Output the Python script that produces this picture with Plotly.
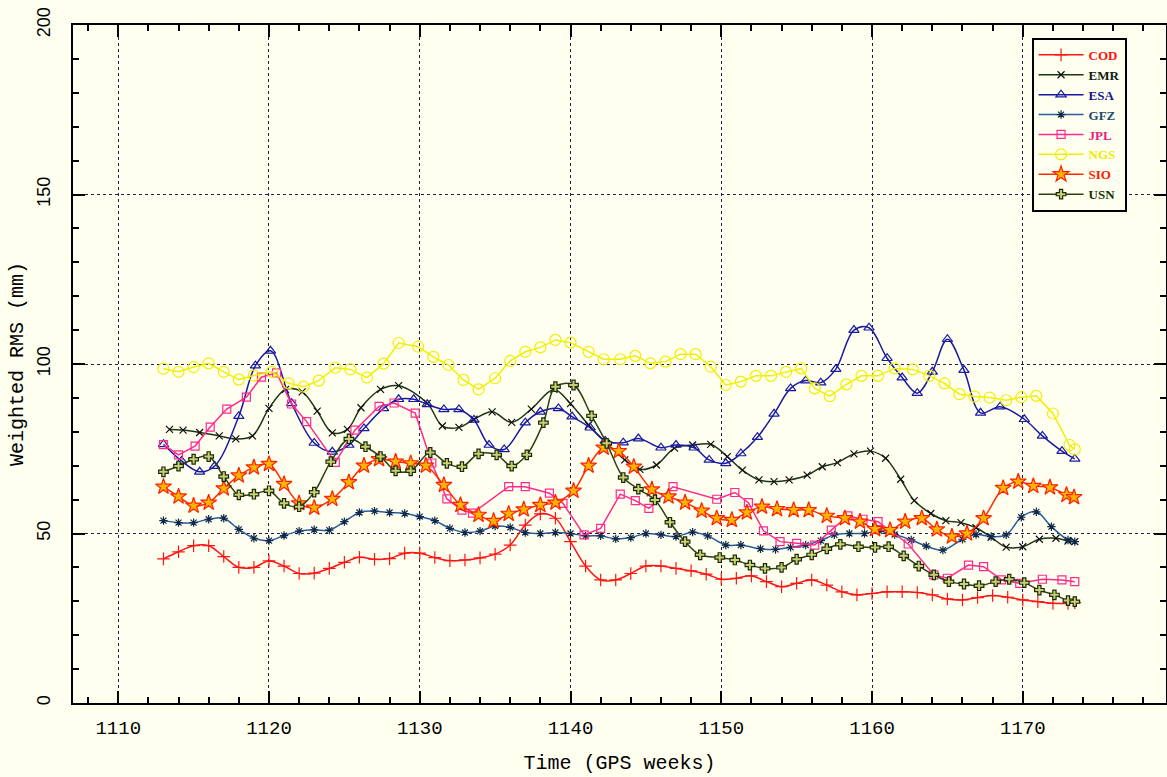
import plotly.graph_objects as go

# GPS weeks (weekly series) and values
weeks = [1113, 1114, 1115, 1116, 1117, 1118, 1119, 1120, 1121, 1122, 1123, 1124, 1125, 1126, 1127,
         1128, 1129, 1130, 1131, 1132, 1133, 1134, 1135, 1136, 1137, 1138, 1139, 1140, 1141, 1142,
         1143, 1144, 1145, 1146, 1147, 1148, 1149, 1150, 1151, 1152, 1153, 1154, 1155, 1156, 1157,
         1158, 1159, 1160, 1161, 1162, 1163, 1164, 1165, 1166, 1167, 1168, 1169, 1170, 1171, 1172,
         1173, 1173.45]

cod = [42.5, 44.6, 46.4, 46.4, 43.2, 40.0, 40.0, 41.9, 40.4, 38.2, 38.3, 39.7, 41.5, 43.0, 42.4,
       42.6, 44.2, 44.2, 42.9, 42.0, 42.2, 42.8, 43.9, 46.6, 52.5, 55.8, 54.5, 47.6, 40.4, 36.3,
       36.3, 38.2, 40.4, 40.4, 39.7, 39.0, 38.0, 36.5, 36.8, 37.5, 35.8, 34.3, 35.3, 36.3, 34.8,
       32.8, 31.9, 32.3, 32.8, 32.8, 32.6, 31.9, 30.7, 30.4, 31.1, 31.7, 31.2, 30.4, 29.9, 29.4,
       29.4, 29.6]

emr_x = [1113.4, 1114.3, 1115.4, 1116.7, 1117.8, 1118.9, 1120, 1121.1, 1122.2, 1123.2,
         1124.2, 1125.2, 1126.1, 1127.4, 1128.6, 1130.5, 1131.5, 1132.6, 1133.6,
         1134.8, 1136.1, 1137.4, 1138.9, 1140, 1141.2, 1142.4, 1143.6, 1144.6,
         1145.7, 1146.9, 1148.1, 1149.3, 1150.4, 1151.4, 1152.5, 1153.5, 1154.5, 1155.7, 1156.7,
         1157.7, 1158.8, 1159.9, 1160.9, 1161.9, 1162.8, 1163.9, 1164.9, 1165.9, 1166.9, 1167.9, 1168.9,
         1170, 1171.1, 1172.2, 1173, 1173.45]
emr = [80.7, 80.5, 79.8, 78.8, 77.9, 78.8, 86.9, 92.5, 91.8, 86.1,
       79.7, 80.7, 87.1, 92.5, 93.6, 88.4, 81.7, 81.3, 83.7,
       85.9, 82.8, 86.7, 92.5, 88.3, 82.0, 76.6, 71.7, 68.9,
       70.2, 75.2, 76.1, 76.3, 72.7, 68.7, 65.8, 65.3, 65.8, 67.2, 69.7,
       70.9, 73.5, 74.3, 72.2, 66.0, 59.7, 55.9, 53.8, 53.2, 51.7, 48.9, 46.0,
       46.1, 48.3, 48.6, 47.8, 47.6]

esa_x = [1113, 1114.2, 1115.4, 1116.4, 1118, 1119.1, 1120.1, 1121.5, 1123,
         1124.2, 1125.3, 1126.3, 1127.6, 1128.6, 1129.6, 1130.5, 1131.6, 1132.6, 1133.6,
         1134.6, 1135.6, 1137, 1138, 1139.2, 1140.1, 1141.3, 1142.3, 1143.5, 1144.5,
         1146, 1147, 1148.2, 1149.2, 1150.3, 1151.3, 1152.4, 1153.5, 1154.6, 1155.6, 1156.6,
         1157.6, 1158.8, 1159.8, 1161, 1162, 1163, 1164, 1165, 1166.1, 1167.2, 1168.5,
         1170.1, 1171.3, 1172.6, 1173.45]
esa = [76.3, 71.4, 68.2, 69.9, 84.6, 99.5, 103.9, 88.4, 76.7,
       74.1, 76.1, 81.0, 86.9, 89.6, 89.6, 88.1, 86.6, 86.6, 83.5,
       76.1, 74.8, 82.7, 85.9, 86.9, 84.5, 81.2, 77.3, 76.8, 78.0,
       75.3, 76.1, 75.3, 71.7, 70.7, 73.6, 78.4, 85.3, 92.8, 95.1, 94.5,
       98.5, 110.0, 110.7, 101.7, 96.0, 91.4, 97.7, 107.3, 98.2, 85.6, 87.4,
       83.7, 78.8, 74.3, 72.0]

gfz_x = [1113, 1114, 1115, 1116, 1117, 1118, 1119, 1120, 1121, 1122,
         1123, 1124, 1125, 1126, 1127, 1128, 1129, 1130, 1131, 1132,
         1133, 1134, 1135, 1136, 1137, 1138, 1139, 1140, 1141, 1142,
         1143, 1144, 1145, 1146, 1147,
         1148.1, 1149.1, 1150.3, 1151.3, 1152.6, 1153.6, 1154.6, 1155.6, 1156.6,
         1157.5, 1158.5, 1159.5, 1160.5, 1161.5, 1162.6, 1163.6, 1164.7,
         1166.0, 1166.9, 1167.9, 1168.9,
         1169.9, 1170.9, 1171.9, 1173.0, 1173.45]
gfz = [53.8, 53.2, 53.2, 54.2, 54.5, 51.2, 48.6, 47.9, 49.4, 50.7,
       51.1, 51.0, 53.5, 56.2, 56.6, 56.2, 55.9, 55.0, 53.8, 51.5,
       50.3, 50.7, 52.2, 51.8, 50.3, 50.0, 50.3, 50.0, 49.3, 49.3,
       48.4, 48.8, 50.0, 49.6, 49.1,
       50.4, 49.3, 46.6, 46.6, 45.5, 45.3, 45.9, 46.6, 47.9,
       49.6, 50.0, 50.0, 50.7, 49.7, 48.1, 46.3, 45.1,
       48.3, 49.7, 49.1, 49.6,
       54.8, 56.4, 52.0, 48.1, 47.6]

jpl_x = [1113, 1114, 1115.1, 1116.1, 1117.2, 1118.5, 1119.5, 1120.5, 1121.5, 1122.5,
         1124.4, 1125.7, 1127.3, 1128.3, 1129.7, 1130.8, 1131.8, 1132.8, 1133.5,
         1135.9, 1137, 1138.6, 1139.5, 1140.9, 1142, 1143.3, 1144.3,
         1145.2, 1146.8, 1149.7, 1150.9, 1151.8, 1152.8, 1153.9, 1155, 1156.2,
         1157.3, 1158.4, 1159.4, 1160.4, 1162.4, 1164.1, 1165, 1166.4, 1167.4, 1168.6,
         1169.8, 1171.3, 1172.6, 1173.45]
jpl = [76.2, 73.2, 75.8, 81.4, 86.7, 90.2, 96.1, 97.4, 88.2, 83.0,
       71.0, 80.5, 87.5, 88.5, 85.5, 70.8, 60.2, 56.9, 56.0,
       63.8, 63.8, 61.9, 58.9, 49.6, 51.5, 61.6, 59.7,
       57.4, 63.8, 60.1, 62.1, 59.1, 50.8, 47.6, 47.1, 46.6,
       51.0, 55.2, 54.2, 53.5, 46.9, 37.8, 36.8, 40.7, 40.2, 36.3,
       35.3, 36.5, 36.3, 35.8]

ngs_x = [1113, 1114, 1115, 1116, 1117, 1118, 1119, 1120.2, 1121.3, 1122.3, 1123.3,
         1124.4, 1125.4, 1126.5, 1127.6, 1128.6, 1129.9, 1130.9, 1131.9, 1132.9, 1133.9,
         1135, 1136, 1137, 1138, 1139, 1140, 1141.2, 1142.2, 1143.3, 1144.3,
         1145.3, 1146.3, 1147.3, 1148.3, 1149.3, 1150.3, 1151.3, 1152.3, 1153.3, 1154.3, 1155.3,
         1156.2, 1157.2,
         1158.3, 1159.3, 1160.4, 1161.5, 1162.7, 1163.8, 1164.8, 1165.8, 1166.8, 1167.8, 1168.9,
         1169.9, 1170.9, 1172, 1173.1, 1173.45]
ngs = [98.6, 97.7, 99.1, 100.2, 97.7, 95.4, 96.6, 97.7, 94.3, 93.3, 95.1,
       98.9, 98.4, 96.0, 100.1, 106.2, 105.1, 102.1, 99.7, 95.3, 92.5,
       95.8, 100.9, 103.6, 104.9, 107.1, 106.3, 103.6, 101.4, 101.4, 102.4,
       100.2, 100.7, 102.9, 102.9, 99.2, 93.8, 94.8, 96.5, 96.5, 97.7, 98.7,
       92.8, 90.5,
       94.0, 96.5, 96.5, 98.7, 98.4, 96.5, 94.3, 91.1, 90.4, 90.1, 89.3,
       90.2, 90.6, 85.4, 76.1, 74.8]

sio_x = [1113, 1114, 1115, 1116, 1117, 1118, 1119, 1120, 1121, 1122, 1123,
         1124.2, 1125.3, 1126.3, 1127.3, 1128.4, 1129.4, 1130.4, 1131.6, 1132.7, 1133.9,
         1134.9, 1135.9, 1136.9, 1138, 1139, 1140.2, 1141.2, 1142.2, 1143.2, 1144.2,
         1145.4, 1146.5, 1147.6, 1148.7, 1149.7, 1150.7, 1151.7, 1152.7, 1153.7, 1154.8, 1155.8, 1157.0,
         1158.2, 1159.2, 1160.2, 1161.2, 1162.2, 1163.3, 1164.3, 1165.3, 1166.3, 1167.4, 1168.7,
         1169.7, 1170.7, 1171.8, 1172.9, 1173.4]
sio = [63.8, 60.9, 58.2, 59.1, 63.3, 67.1, 69.5, 70.5, 64.6, 58.9, 57.6,
       60.2, 65.1, 70.0, 71.9, 71.2, 70.7, 70.0, 64.3, 58.4, 55.5,
       53.7, 55.8, 57.1, 58.4, 59.1, 62.6, 70.0, 75.3, 74.3, 69.7,
       63.0, 60.9, 59.1, 56.7, 54.5, 54.0, 56.2, 57.9, 57.2, 56.9, 56.9, 55.2,
       54.5, 53.5, 51.3, 51.0, 53.5, 54.5, 51.2, 49.1, 50.0, 54.5, 63.4,
       65.3, 64.0, 63.6, 61.4, 60.7]

usn_x = [1113, 1114, 1115, 1116, 1117, 1118, 1119, 1120, 1121, 1122, 1123,
         1124.1, 1125.3, 1126.4, 1127.4, 1128.4, 1129.4, 1130.7, 1131.8, 1132.8, 1133.9,
         1135.1, 1136.1, 1137.1, 1138.2, 1139, 1140.2, 1141.4, 1142.4, 1143.5, 1144.5,
         1145.6, 1146.6, 1147.6, 1148.6, 1149.9, 1150.9, 1151.9, 1152.9, 1154, 1155, 1156, 1157,
         1157.9, 1159.1, 1160.2, 1161.1, 1162.1, 1163.1, 1164.1, 1165.1, 1166.1, 1167.1, 1168.2, 1169.1,
         1170.1, 1171.1, 1172.1, 1173.0, 1173.45]
usn = [68.2, 69.9, 71.9, 72.7, 66.8, 61.4, 61.6, 62.6, 58.9, 57.9, 62.2,
       71.2, 77.9, 75.6, 72.7, 68.5, 68.5, 73.9, 70.7, 69.7, 73.5,
       73.2, 69.9, 73.2, 82.7, 93.3, 93.8, 84.7, 76.6, 66.5, 63.1,
       59.9, 53.3, 47.6, 43.7, 42.9, 42.2, 40.7, 39.7, 40.0, 42.4, 43.7, 45.5,
       46.8, 46.1, 45.9, 46.1, 43.4, 40.4, 37.8, 35.8, 35.1, 34.6, 35.8, 36.5,
       35.5, 33.3, 31.9, 30.2, 29.9]

bg = "#FFFFF0"

series = [
    # name, x, y, line colour, text colour, symbol, size, marker fill, marker line, line shape
    ("COD", weeks, cod, "#ff1414", "#ff1010", "cross-thin-open", 9, "#ff1414", "#ff1414", "spline"),
    ("EMR", emr_x, emr, "#1e3418", "#102010", "x-thin-open", 7, "#101010", "#101010", "spline"),
    ("ESA", esa_x, esa, "#1a1aa0", "#14148c", "triangle-up-open", 9, "#1a1aa0", "#1a1aa0", "spline"),
    ("GFZ", gfz_x, gfz, "#2a5c9c", "#1a4a70", "asterisk-open", 7, "#102848", "#102848", "spline"),
    ("JPL", jpl_x, jpl, "#ff2a8c", "#e8207e", "square-open", 8, "#ff2a8c", "#ff2a8c", "linear"),
    ("NGS", ngs_x, ngs, "#f2ee00", "#f0ea00", "circle-open", 11, "#f2ee00", "#f2ee00", "linear"),
    ("SIO", sio_x, sio, "#ff2a00", "#ff1800", "star", 12, "#ffb400", "#ff2000", "spline"),
    ("USN", usn_x, usn, "#2a4210", "#1a3008", "cross", 8, "#c8d070", "#1a2a08", "spline"),
]

fig = go.Figure()

for name, xs, ys, lc, tc, sym, sz, fill, mline, shape in series:
    fig.add_trace(go.Scatter(
        x=xs, y=ys,
        mode="lines+markers",
        name=f"<span style='color:{tc}'><b>{name}</b></span>",
        line=dict(color=lc, width=1.5, shape=shape, smoothing=1.0),
        marker=dict(symbol=sym, size=sz, color=fill,
                    line=dict(color=mline, width=1.2)),
        hovertemplate=name + ": %{y:.1f} mm<br>week %{x}<extra></extra>",
    ))

fig.update_layout(
    width=1167, height=777,
    paper_bgcolor=bg, plot_bgcolor=bg,
    margin=dict(l=73, r=1, t=25, b=74, autoexpand=False),
    showlegend=True,
    legend=dict(
        x=0.877, y=0.981, xanchor="left", yanchor="top",
        bgcolor=bg, bordercolor="black", borderwidth=2,
        font=dict(family="Liberation Serif", size=13),
        itemwidth=45, tracegroupgap=0,
    ),
)

fig.update_xaxes(
    range=[1107.0, 1179.5],
    tick0=1110, dtick=10,
    ticks="inside", ticklen=12, tickwidth=1.5, tickcolor="black",
    minor=dict(tick0=1110, dtick=2, ticks="inside", ticklen=6, tickcolor="black", showgrid=False),
    showline=True, linewidth=2, linecolor="black", mirror="ticks",
    showgrid=True, gridcolor="#20204a", griddash="dot", gridwidth=1.3,
    zeroline=False, automargin=False,
    tickfont=dict(family="Liberation Mono", size=19, color="black"),
    ticklabelstandoff=6,
    title=dict(text="Time (GPS weeks)", standoff=16,
               font=dict(family="Liberation Mono", size=20, color="black")),
)

fig.update_yaxes(
    range=[0, 200],
    tick0=0, dtick=50,
    ticks="inside", ticklen=12, tickwidth=1.5, tickcolor="black",
    minor=dict(tick0=0, dtick=10, ticks="inside", ticklen=6, tickcolor="black", showgrid=False),
    showline=True, linewidth=2, linecolor="black", mirror="ticks",
    showgrid=True, gridcolor="#20204a", griddash="dot", gridwidth=1.3,
    zeroline=False, automargin=False,
    tickangle=-90,
    tickfont=dict(family="Liberation Sans", size=18, color="black"),
    ticklabelstandoff=14,
    title=dict(text="Weighted RMS (mm)", standoff=5,
               font=dict(family="Liberation Mono", size=20, color="black")),
)

# drop the browser's default page margin so the figure sits at the window's corner
fig.write_html("out.html",
               config={"displayModeBar": False},
               post_script="document.body.style.margin='0';document.body.style.background='#FFFFF0';")
